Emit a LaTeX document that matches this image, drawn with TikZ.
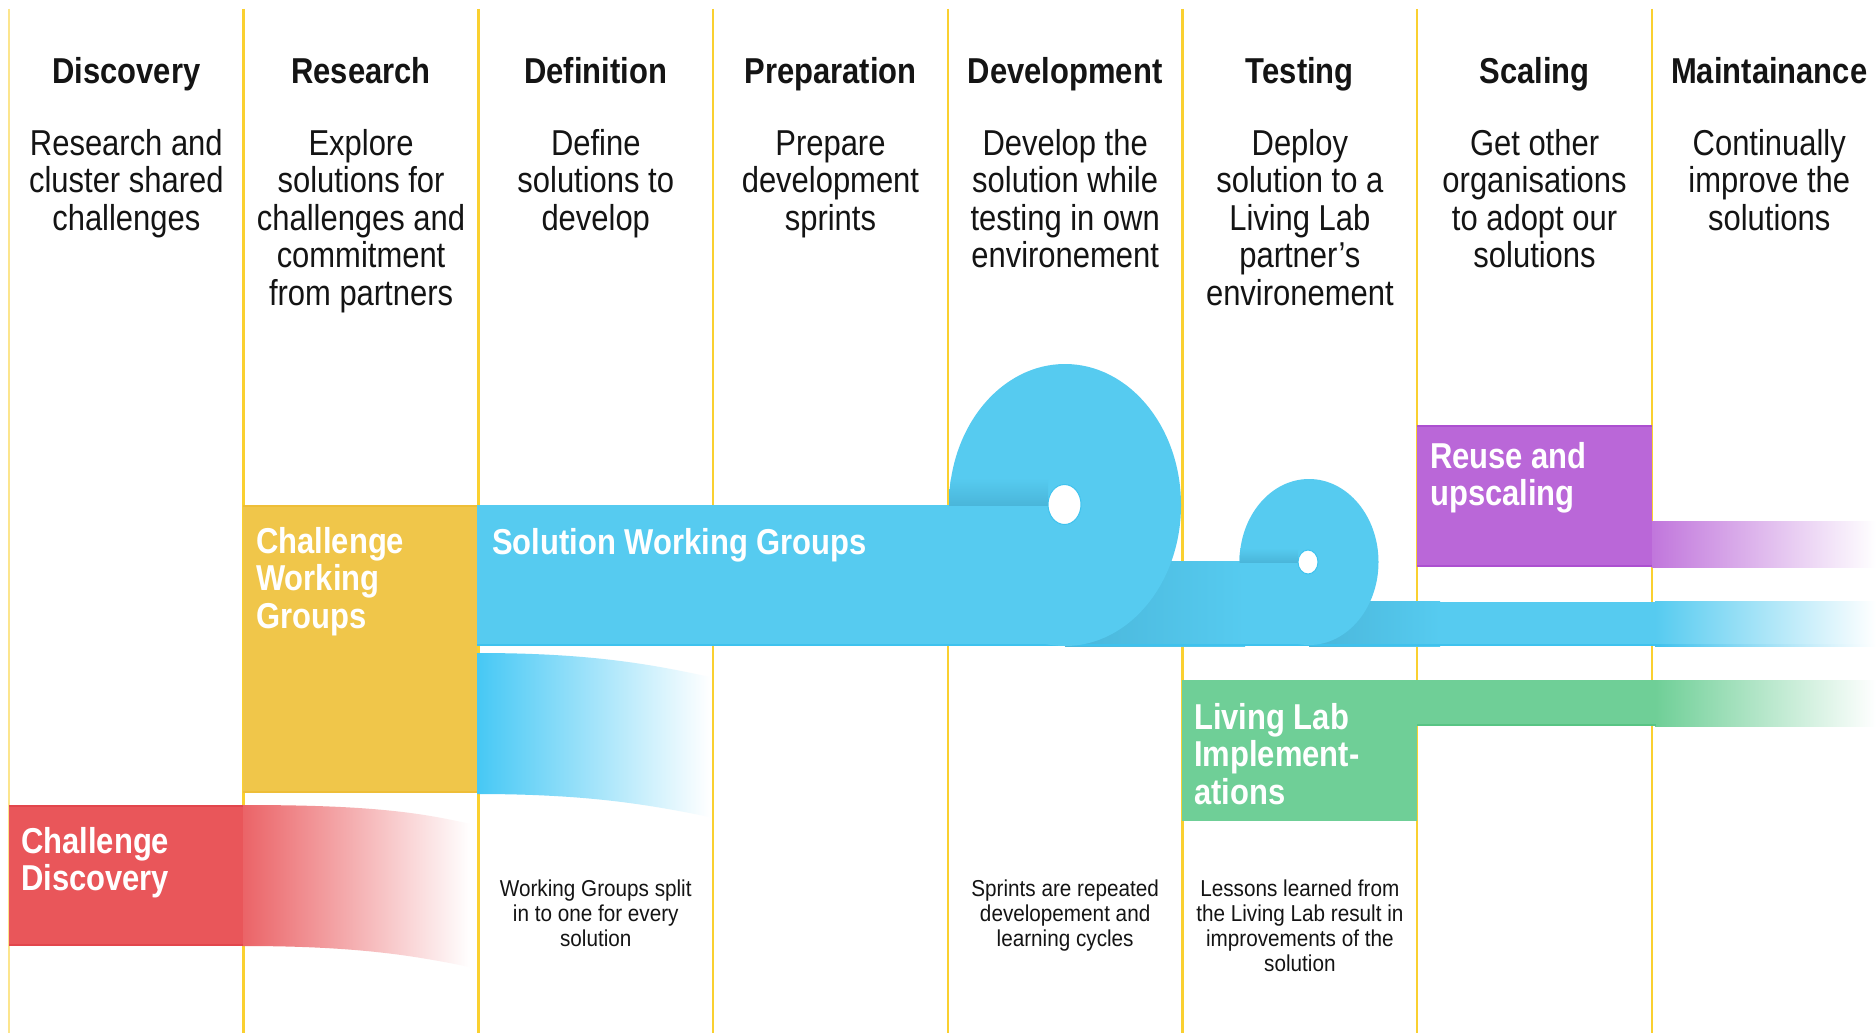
\documentclass[tikz,border=0pt]{standalone}
\usepackage{fontspec}
\setmainfont[FakeStretch=0.86]{Liberation Sans}
\newfontfamily\notefont[FakeStretch=0.9]{Liberation Sans}
\definecolor{lineY}{RGB}{250,208,48}
\definecolor{redC}{RGB}{233,86,90}
\definecolor{redD}{RGB}{226,70,76}
\definecolor{yelC}{RGB}{240,198,74}
\definecolor{yelD}{RGB}{238,190,56}
\definecolor{bluC}{RGB}{86,203,240}
\definecolor{bluR}{RGB}{70,200,245}
\definecolor{bluD}{RGB}{62,194,238}
\definecolor{bluS}{RGB}{74,182,218}
\definecolor{purC}{RGB}{186,103,216}
\definecolor{purD}{RGB}{172,80,208}
\definecolor{grnC}{RGB}{111,207,151}
\definecolor{grnD}{RGB}{88,196,132}
\definecolor{txt}{RGB}{20,20,20}
\tikzset{
  vline/.style={draw=lineY, line width=2.5pt},
  head/.style={anchor=base, inner sep=0pt, font=\fontsize{36}{37.5}\selectfont\bfseries, text=txt},
  desc/.style={anchor=base, inner sep=0pt, align=center, font=\fontsize{36}{37.5}\selectfont, text=txt},
  boxtxt/.style={anchor=base west, inner sep=0pt, align=left, text=white, font=\fontsize{36}{37.5}\selectfont\bfseries},
  note/.style={anchor=base, inner sep=0pt, align=center, font=\notefont\fontsize{23}{25}\selectfont, text=txt},
}
\begin{document}
\begin{tikzpicture}[x=1pt,y=-1pt]
\useasboundingbox[fill=white] (0,0) rectangle (1876,1033);

% column lines
\draw[vline, draw=lineY!55] (9,9) -- (9,1033);
\foreach \i in {1,...,7} {
  \draw[vline] ({9+234.7*\i},9) -- ({9+234.7*\i},1033);
}

% headings
\node[head] (h1) at (126.35,83) {Discovery};
\node[head] (h2) at (361.05,83) {Research};
\node[head] (h3) at (595.75,83) {Definition};
\node[head] (h4) at (830.45,83) {Preparation};
\node[head] (h5) at (1065.15,83) {Development};
\node[head] (h6) at (1299.85,83) {Testing};
\node[head] (h7) at (1534.55,83) {Scaling};
\node[head] (h8) at (1769.25,83) {Maintainance};

% descriptions (base anchor = last line baseline; first baseline at 155)
\node[desc] (d1) at (126.35,230) {Research and\\cluster shared\\challenges};
\node[desc] (d2) at (361.05,305) {Explore\\solutions for\\challenges and\\commitment\\from partners};
\node[desc] (d3) at (595.75,230) {Define\\solutions to\\develop};
\node[desc] (d4) at (830.45,230) {Prepare\\development\\sprints};
\node[desc] (d5) at (1065.15,267.5) {Develop the\\solution while\\testing in own\\environement};
\node[desc] (d6) at (1299.85,305) {Deploy\\solution to a\\Living Lab\\partner's\\environement};
\node[desc] (d7) at (1534.55,267.5) {Get other\\organisations\\to adopt our\\solutions};
\node[desc] (d8) at (1769.25,230) {Continually\\improve the\\solutions};

% red: challenge discovery
\shade[left color=redC!92!white, right color=white]
  (243,805) .. controls (360,805) and (415,811) .. (470,824)
  -- (470,967) .. controls (415,956) and (360,946) .. (243,946) -- cycle;
\fill[redC] (9,805) rectangle (243,946);
\draw[redD, line width=2pt] (9,806) -- (243,806) (9,945) -- (243,945);

% yellow: challenge working groups
\fill[yelC] (243,505) rectangle (477,793);
\draw[yelD, line width=2pt] (243,506) -- (477,506) (243,792) -- (477,792);

% blue fading ribbon
\shade[left color=bluR, right color=white]
  (477,653) .. controls (590,653) and (650,664) .. (710,677)
  -- (710,817) .. controls (650,805) and (590,794) .. (477,794) -- cycle;

% blue band and rolls
\fill[bluC] (477,505) rectangle (1065,646);
\fill[bluC] (1065,561.7) rectangle (1309,646);
\shade[left color=bluS, right color=bluC] (1065,561.7) rectangle (1245,646);
\fill[bluC] (1309,601.7) rectangle (1656,646);
\shade[left color=bluS, right color=bluC] (1309,601.7) rectangle (1440,646);
\shade[left color=bluC, right color=white] (1655,601.7) rectangle (1876,646);
\draw[bluD, line width=2pt] (477,645) -- (1656,645);
\shade[left color=bluD, right color=white] (1655,644) rectangle (1876,646);

\fill[bluC] (1065,505) ellipse [x radius=116, y radius=141];
\begin{scope}
  \clip (1065,505) ellipse [x radius=116, y radius=141];
  \shade[top color=bluC, bottom color=bluS] (940,478) rectangle (1048,505);
\end{scope}
\fill[bluC] (1309,562) ellipse [x radius=69.5, y radius=83];
\begin{scope}
  \clip (1309,562) ellipse [x radius=69.5, y radius=83];
  \shade[top color=bluC, bottom color=bluS] (1230,548) rectangle (1298,562);
\end{scope}
\filldraw[fill=white, draw=bluD, line width=1pt] (1064.5,504.5) ellipse [x radius=16.5, y radius=20];
\filldraw[fill=white, draw=bluD, line width=1pt] (1308,562) ellipse [x radius=10, y radius=12];

% purple: reuse and upscaling
\fill[purC] (1417,425) rectangle (1652,567);
\draw[purD, line width=2pt] (1417,426) -- (1652,426) (1417,566) -- (1652,566);
\shade[left color=purC!90!white, right color=white] (1652,521) rectangle (1876,567);

% green: living lab
\fill[grnC] (1182,680) rectangle (1417,821);
\fill[grnC] (1417,680) rectangle (1656,726);
\shade[left color=grnC, right color=white] (1655,680) rectangle (1876,726);
\draw[grnD, line width=2pt] (1417,725) -- (1656,725);

% box labels (base anchor = last line baseline)
\node[boxtxt] (cd) at (21,890.5) {Challenge\\Discovery};
\node[boxtxt] (cwg) at (256,628) {Challenge\\Working\\Groups};
\node[boxtxt] (swg) at (492,554) {Solution Working Groups};
\node[boxtxt] (ll) at (1194,804) {Living Lab\\Implement-\\ations};
\node[boxtxt] (ru) at (1430,505.5) {Reuse and\\upscaling};

% notes
\node[note] (n1) at (595.75,946) {Working Groups split\\in to one for every\\solution};
\node[note] (n2) at (1065.15,946) {Sprints are repeated\\developement and\\learning cycles};
\node[note] (n3) at (1299.85,971) {Lessons learned from\\the Living Lab result in\\improvements of the\\solution};
\end{tikzpicture}
\end{document}
